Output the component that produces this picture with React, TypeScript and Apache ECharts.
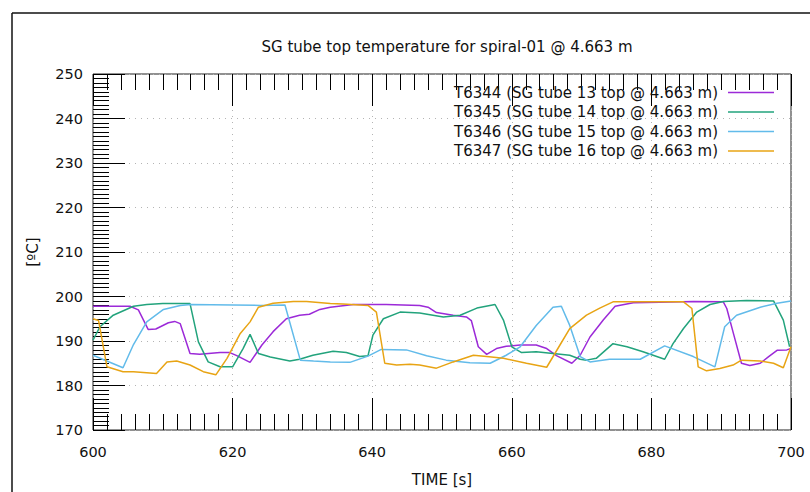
import React, { useEffect, useRef } from "react";
import * as echarts from "echarts";

// Time axis and temperature axis settings
const X_MIN = 600;
const X_MAX = 700;
const X_STEP = 20;
const Y_MIN = 170;
const Y_MAX = 250;
const Y_STEP = 10;

const TITLE = "SG tube top temperature for spiral-01 @ 4.663 m";
const X_NAME = "TIME [s]";
const Y_NAME = "[ºC]";

const SERIES_NAMES = [
  "T6344 (SG tube 13 top @ 4.663 m)",
  "T6345 (SG tube 14 top @ 4.663 m)",
  "T6346 (SG tube 15 top @ 4.663 m)",
  "T6347 (SG tube 16 top @ 4.663 m)",
];

const SERIES_COLORS = ["#9c2ad8", "#22a37c", "#62bbea", "#e8a414"];

// [time s, temperature °C]
const t6344: [number, number][] = [
  [600, 197.8], [605.3, 197.8], [606.5, 197.0], [607.9, 192.6], [609, 192.7],
  [610.8, 194.1], [611.7, 194.4], [612.5, 193.9], [613.9, 187.2], [615.3, 187.0],
  [618.2, 187.4], [619.6, 187.4], [620.6, 186.7], [622.5, 185.2], [624.2, 189.1],
  [625.8, 192.1], [627.7, 195.0], [629.6, 195.8], [631, 196.0], [632.5, 197.1],
  [634, 197.6], [637.3, 198.2], [642, 198.2], [646.8, 198.0], [648, 197.6],
  [649.2, 196.4], [651.6, 195.8], [653.5, 195.4], [654.2, 194.6], [655.2, 188.7],
  [656.4, 187.0], [657.8, 188.3], [659.2, 188.8], [661.2, 189.1], [663.5, 189.1],
  [665, 188.3], [666.4, 186.7], [668.6, 185.0], [669.8, 186.8], [671.2, 190.9],
  [673.1, 194.7], [674.8, 197.8], [677.4, 198.6], [681.2, 198.7], [686, 198.9],
  [690.3, 198.8], [690.8, 197.3], [691.7, 192.0], [692.9, 185.0], [694.1, 184.5],
  [695.6, 185.0], [696.8, 186.5], [698, 187.9], [699.4, 188.0], [700, 188.3],
];

const t6345: [number, number][] = [
  [600, 190.2], [601, 193.2], [602.9, 195.8], [605.8, 197.8], [607.7, 198.2],
  [610, 198.4], [613.9, 198.4], [615.1, 189.8], [616.5, 185.3], [618.2, 184.2],
  [620, 184.2], [621.5, 188.3], [622.5, 191.5], [623.7, 187.2], [625.4, 186.4],
  [628.2, 185.5], [629.6, 185.9], [631.5, 186.8], [634.4, 187.7], [636.3, 187.4],
  [638.2, 186.5], [639.4, 186.7], [640.1, 191.3], [641.6, 195.0], [644, 196.5],
  [646.8, 196.3], [650.2, 195.4], [652.6, 195.8], [655, 197.4], [657.6, 198.2],
  [658.8, 194.7], [660, 188.7], [661.4, 187.4], [663.5, 187.6], [665.9, 187.2],
  [668.3, 186.8], [669.8, 185.9], [670.7, 185.7], [672.1, 186.1], [674.5, 189.4],
  [676.5, 188.7], [678.8, 187.6], [681.9, 185.9], [683.1, 189.4], [684.6, 192.8],
  [686.5, 196.5], [688.4, 198.2], [690.3, 198.9], [693.6, 199.1], [697.5, 199.0],
  [698.9, 194.7], [699.8, 188.7],
];

const t6346: [number, number][] = [
  [600, 186.8], [604.3, 184.0], [605.8, 189.2], [607.7, 194.3], [610.1, 197.1],
  [612.5, 198.0], [614, 198.2], [620, 198.1], [624, 198.0], [627.5, 198.1],
  [629.7, 185.7], [631.6, 185.5], [634, 185.3], [636.8, 185.2], [639.4, 186.6],
  [641.3, 188.1], [644.9, 188.0], [647.8, 186.7], [650.6, 185.7], [654, 185.1],
  [656.9, 185.0], [659.2, 186.8], [661.2, 188.7], [663.5, 193.5], [665.9, 197.6],
  [667.1, 197.8], [668.3, 193.5], [669.8, 186.5], [671.2, 185.3], [674, 185.9],
  [678.4, 185.9], [681.9, 188.9], [686, 186.5], [689.1, 184.2], [690.5, 193.2],
  [692.2, 195.8], [695.6, 197.6], [698, 198.5], [700, 199.0],
];

const t6347: [number, number][] = [
  [600, 195.0], [600.8, 194.6], [602, 184.2], [604.3, 183.1], [605.8, 183.1],
  [609.1, 182.7], [610.6, 185.3], [612, 185.5], [613.9, 184.6], [615.8, 183.1],
  [617.6, 182.4], [619.2, 186.1], [621.1, 191.7], [622.5, 194.3], [623.7, 197.6],
  [625.8, 198.5], [628.7, 198.9], [630.6, 198.9], [634, 198.4], [635.8, 198.3],
  [639.4, 198.0], [640.6, 196.5], [641.8, 185.0], [643.5, 184.6], [645.4, 184.8],
  [646.8, 184.6], [649.2, 183.9], [651.6, 185.3], [654.5, 186.8], [656.4, 186.5],
  [658.8, 186.1], [662.1, 185.0], [665, 184.1], [666.9, 189.1], [668.3, 192.8],
  [670.7, 195.8], [672.6, 197.4], [674.5, 198.8], [678.8, 198.8], [684.6, 198.8],
  [685.8, 197.3], [686.7, 184.2], [687.9, 183.3], [689.8, 183.8], [691.7, 184.6],
  [692.9, 185.7], [695.6, 185.5], [697.5, 185.0], [698.9, 184.0], [700, 188.7],
];

const SERIES_DATA = [t6344, t6345, t6346, t6347];

const FONT = "DejaVu Sans";
const TEXT_COLOR = "#111";

export default function App() {
  const ref = useRef<HTMLDivElement>(null);

  useEffect(() => {
    if (!ref.current) return;
    const chart = echarts.init(ref.current, undefined, { renderer: "svg" });

    const tickCommon = {
      show: true,
      inside: true,
      length: 32,
      lineStyle: { color: "#000", width: 1 },
    };
    const minorCommon = {
      show: true,
      splitNumber: 10,
      length: 16,
      lineStyle: { color: "#000", width: 1 },
    };
    const gridLine = {
      show: true,
      lineStyle: { color: "#b4b4b4", width: 1, type: [1, 5] },
    };

    chart.setOption({
      animation: false,
      backgroundColor: "#fff",
      textStyle: { fontFamily: FONT },
      grid: {
        left: 93,
        right: 19,
        top: 74,
        bottom: 60,
        show: true,
        borderColor: "#222",
        borderWidth: 1,
        backgroundColor: "transparent",
      },
      legend: {
        orient: "vertical",
        right: 31,
        top: 80,
        align: "right",
        itemWidth: 46,
        itemHeight: 14,
        itemGap: 4.5,
        icon: "path://M0,6.25 L46,6.25 L46,7.75 L0,7.75 Z",
        textStyle: {
          fontFamily: FONT,
          fontSize: 15,
          color: TEXT_COLOR,
          padding: [0, 5, 0, 0],
        },
        data: SERIES_NAMES,
      },
      xAxis: [
        {
          type: "value",
          position: "bottom",
          min: X_MIN,
          max: X_MAX,
          interval: X_STEP,
          axisLine: { show: false },
          axisTick: tickCommon,
          minorTick: minorCommon,
          axisLabel: {
            fontFamily: FONT,
            fontSize: 14.5,
            color: TEXT_COLOR,
            margin: 14,
          },
          splitLine: gridLine,
          name: X_NAME,
          nameLocation: "middle",
          nameGap: 42,
          nameTextStyle: { fontFamily: FONT, fontSize: 15, color: TEXT_COLOR },
        },
        {
          type: "value",
          position: "top",
          min: X_MIN,
          max: X_MAX,
          interval: X_STEP,
          axisLine: { show: false },
          axisTick: tickCommon,
          minorTick: minorCommon,
          axisLabel: { show: false },
          splitLine: { show: false },
        },
      ],
      yAxis: {
        type: "value",
        min: Y_MIN,
        max: Y_MAX,
        interval: Y_STEP,
        axisLine: { show: false },
        axisTick: tickCommon,
        minorTick: minorCommon,
        axisLabel: {
          fontFamily: FONT,
          fontSize: 14.5,
          color: TEXT_COLOR,
          margin: 10,
        },
        splitLine: gridLine,
        name: Y_NAME,
        nameLocation: "middle",
        nameRotate: 90,
        nameGap: 53,
        nameTextStyle: { fontFamily: FONT, fontSize: 15, color: TEXT_COLOR },
      },
      series: SERIES_DATA.map((data, i) => ({
        name: SERIES_NAMES[i],
        type: "line",
        xAxisIndex: 0,
        data,
        symbol: "none",
        showSymbol: false,
        color: SERIES_COLORS[i],
        lineStyle: { color: SERIES_COLORS[i], width: 1.5 },
        z: 3,
      })),
      graphic: [
        {
          type: "line",
          shape: { x1: 12, y1: 13, x2: 810, y2: 13 },
          style: { stroke: "#111", lineWidth: 1.5 },
        },
        {
          type: "line",
          shape: { x1: 12, y1: 13, x2: 12, y2: 492 },
          style: { stroke: "#111", lineWidth: 1.5 },
        },
        {
          type: "text",
          x: 447,
          y: 47,
          style: {
            text: TITLE,
            fontFamily: FONT,
            fontSize: 15,
            fill: TEXT_COLOR,
            align: "center",
            verticalAlign: "middle",
          },
        },
      ],
    });

    return () => chart.dispose();
  }, []);

  return (
    <div
      ref={ref}
      style={{ position: "fixed", left: 0, top: 0, width: 810, height: 492 }}
    />
  );
}
